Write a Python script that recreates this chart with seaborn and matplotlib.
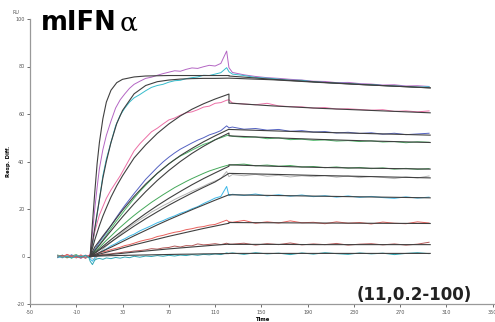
import numpy as np
import pandas as pd
import matplotlib
matplotlib.use('Agg')
import matplotlib.pyplot as plt
import seaborn as sns

# time grids (s)
t_base = [-26, -22, -18, -14, -10, -6, -2, 1]
t_assoc = [2, 4, 6, 8, 10, 13, 16, 20, 24, 28, 32, 36, 40, 45, 50, 55, 60, 65, 70, 75,
           80, 85, 90, 95, 100, 105, 110, 115, 120, 122]
t_dissoc = [125, 135, 145, 155, 165, 175, 185, 195, 205, 215, 225, 235, 245, 255, 265, 275, 285, 295]
t_fit = [2, 4, 6, 8, 10, 13, 16, 20, 25, 30, 40, 50, 60, 70, 80, 90, 100, 110, 122,
         122, 160, 200, 240, 296]

# measured traces (RU)
purple = [0.5, -0.3, 0.6, -0.5, 0.2, -0.8, 0.4, 0.3,
          1, 10, 20, 29, 37, 45, 51, 57, 62.5, 66, 68.5, 70.8, 72.5, 73.8, 75, 75.5, 76.3, 77, 77.6, 78.2,
          78, 78.8, 79.4, 79.2, 79.9, 80.5, 80.2, 81.3, 86.5, 79.5,
          77.5, 76.5, 75.8, 75.3, 75.0, 74.6, 74.3, 73.8, 73.7, 73.2, 73.3, 72.8, 72.6, 72.2, 72.3, 71.8, 71.9, 71.6]
cyan = [-0.2, 0.6, -0.4, 0.3, -0.6, 0.5, -0.3, 0.2,
        0, 5, 11, 17.5, 24, 34, 41, 48, 55, 59.5, 62.5, 65, 66.8, 68.2, 69.8, 71.2, 72, 72.5, 73.4, 74,
        74.2, 74.9, 75.3, 75.6, 76.3, 76.2, 76.8, 77.4, 79.5, 77.8,
        76.8, 76.2, 75.4, 75.1, 74.7, 74.2, 74.2, 73.6, 73.3, 73.0, 72.9, 72.5, 72.4, 72.0, 71.8, 71.6, 71.3, 71.5]
pink = [0.3, -0.5, 0.8, -0.2, 0.5, -0.4, 0.6, 0.1,
        0.5, 6, 10.5, 14, 17.5, 21, 24.5, 28, 31, 34, 37.5, 41, 44.5, 47.5, 50, 52.5, 54, 55.8, 57.5, 58.3,
        59.5, 60.5, 60.9, 61.8, 62.9, 63.3, 64.5, 64.8, 65.8, 66,
        64.6, 64.2, 63.9, 64.5, 63.4, 63.1, 63.0, 62.5, 62.7, 62.1, 62.2, 61.9, 61.6, 61.8, 61.1, 61.3, 60.9, 61.3]
blue = [-0.4, 0.4, -0.2, 0.7, -0.5, 0.2, -0.6, 0.4,
        0, 1.5, 3, 4.5, 6, 8, 10, 13, 16, 18.8, 21.5, 24, 26.5, 29.5, 32.5, 35, 37.5, 39.8, 41.8, 43.6,
        45.2, 46.5, 47.8, 49, 50, 51.2, 52, 53, 55, 54.2,
        54.5, 53.6, 53.9, 53.2, 53.5, 52.7, 53.0, 52.4, 52.6, 52.0, 52.3, 51.8, 52.1, 51.5, 51.9, 51.3, 51.6, 51.9]
green = [0.6, -0.2, 0.3, -0.7, 0.5, -0.3, 0.2, -0.4,
         0, 1.2, 2.5, 3.8, 5, 7, 9, 11.8, 14.5, 17, 19.6, 22, 24.5, 27.4, 30, 32.5, 35, 37, 39, 40.8,
         42.3, 43.5, 44.8, 46, 47.2, 48, 49.2, 50, 50.9, 51,
         50.6, 50.2, 50.3, 49.6, 49.9, 49.2, 49.4, 48.9, 49.1, 48.6, 48.8, 48.4, 48.7, 48.2, 48.4, 47.9, 48.3, 48.1]
green2 = [-0.3, 0.5, -0.6, 0.2, 0.8, -0.4, 0.3, -0.2,
          0, 0.8, 1.8, 2.8, 3.8, 5.3, 6.8, 8.6, 10.5, 12.3, 14, 15.7, 17.3, 19.2, 21, 22.8, 24.4, 26, 27.5, 29,
          30.3, 31.6, 32.8, 33.9, 35, 36, 36.8, 37.6, 38.3, 38.5,
          38.6, 38.9, 38.2, 38.5, 38.0, 38.3, 37.7, 37.9, 37.4, 37.7, 37.2, 37.5, 37.0, 37.3, 36.8, 37.1, 36.7, 37.0]
grey = [0.2, -0.6, 0.4, -0.2, 0.6, -0.5, 0.1, -0.3,
        0, -1, -1.5, 0, 1.5, 3, 4.4, 6, 7.6, 9.4, 11, 12.4, 13.8, 15.5, 17, 18.7, 20, 21.4, 22.6, 24,
        25.2, 26.3, 27.5, 28.5, 29.6, 30.8, 31.8, 32.8, 35.8, 33.6,
        34.5, 34.0, 34.6, 33.8, 34.2, 33.5, 34.0, 33.6, 34.1, 33.4, 33.9, 33.2, 33.7, 33.3, 32.8, 33.5, 33.1, 33.9]
lightblue = [-0.5, 0.3, -0.1, 0.6, -0.4, 0.4, -0.7, 0.2,
             -1, -2, -0.5, 0.5, 1.3, 2.4, 3.2, 4.5, 5.4, 6.6, 7.5, 8.6, 9.4, 10.8, 11.9, 13, 14.2, 15.1, 16.2, 17.1,
             18.2, 19, 20.1, 21, 22.3, 23.4, 24.6, 25.3, 29.5, 25.6,
             26.2, 25.7, 26.3, 25.5, 26.0, 25.4, 25.9, 25.2, 25.6, 25.0, 25.5, 24.9, 25.3, 24.8, 24.5, 25.1, 24.6, 25.0]
red = [0.4, -0.3, 0.9, 0.1, -0.5, 0.7, -0.8, 0.5,
       0.5, 1, 0.6, 1.2, 1.5, 2, 2.3, 2.9, 3.4, 3.9, 4.6, 5, 5.6, 6.4, 7, 7.5, 8.4, 8.9, 9.6, 10.2,
       10.6, 11.3, 11.7, 12.3, 12.6, 13.2, 13.5, 14.4, 15.3, 14.6,
       14.4, 15.2, 14.0, 14.6, 14.1, 15.0, 14.2, 14.4, 13.8, 14.6, 14.0, 14.3, 13.7, 14.5, 14.0, 13.8, 14.6, 14.1]
brown = [-0.2, 0.5, -0.4, 0.3, 0.1, -0.6, 0.4, -0.1,
         0, 0.8, 0.3, 0.6, 0.5, 0.9, 1, 1.1, 1.4, 1.6, 1.9, 2, 2.3, 2.5, 2.8, 3.3, 3.1, 3.6, 3.8, 4.4,
         4.0, 4.6, 4.5, 5.3, 4.9, 5.1, 5.4, 5.0, 5.6, 5.2,
         5.2, 5.6, 4.8, 5.4, 5.0, 5.7, 4.9, 5.3, 5.0, 5.5, 4.8, 5.2, 5.4, 4.9, 5.3, 4.8, 5.2, 6.0]
teal = [0.3, -0.4, 0.1, -0.6, 0.4, -0.2, 0.5, -0.5,
        -2, -3.4, -1.5, -1, -0.8, -1.2, -0.6, -0.9, -0.4, -0.7, -0.2, -0.5, 0.1, -0.3, 0.2, 0.0, 0.4, 0.1, 0.5, 0.2,
        0.6, 0.4, 0.8, 0.5, 0.9, 0.7, 1.1, 0.8, 1.5, 1.3,
        1.5, 0.9, 1.6, 1.1, 1.4, 0.8, 1.5, 1.0, 1.6, 1.2, 0.9, 1.5, 1.1, 1.4, 0.8, 1.3, 1.6, 1.2]

# fitted curves (association + dissociation)
purple_fit = [0, 14, 27, 39, 48, 58, 65, 70, 73.2, 74.6, 75.6, 76.0, 76.1, 76.2, 76.2, 76.2, 76.2, 76.2, 76.2,
              76.0, 74.6, 73.4, 72.3, 71.0]
cyan_fit = [0, 6, 12, 18, 24, 33, 40, 48, 56, 61.5, 68.5, 72.0, 73.6, 74.3, 74.7, 74.9, 75.0, 75.0, 75.1,
            75.1, 74.4, 73.3, 72.3, 71.0]
pink_fit = [0, 3.5, 7, 10, 13, 17, 20.5, 25, 29.8, 34, 41.5, 47, 51.8, 55.8, 59.2, 62.0, 64.3, 66.3, 68.4,
            64.6, 63.4, 62.4, 61.6, 60.5]
blue_fit = [0, 2, 4, 5.3, 6.6, 8.6, 10.5, 13, 16.3, 19.5, 25.3, 30.5, 35, 39, 42.5, 45.5, 48.3, 50.8, 53.6,
            53.5, 52.9, 52.3, 51.8, 51.1]
green_fit = [0, 1.2, 2.4, 3.6, 4.8, 6.6, 8.4, 10.8, 13.8, 16.7, 22.2, 27.3, 32, 36.2, 40, 43.4, 46.4, 49.1, 52,
             50.8, 50.0, 49.3, 48.7, 48.0]
green2_fit = [0, 0.7, 1.5, 2.3, 3.1, 4.3, 5.5, 7.1, 9.0, 10.9, 14.6, 18.1, 21.4, 24.5, 27.4, 30.2, 32.8, 35.2, 38.0,
              38.6, 38.0, 37.5, 37.2, 36.8]
grey_fit = [0, 0.6, 1.3, 2, 2.7, 3.7, 4.7, 6.1, 7.8, 9.5, 12.8, 15.9, 18.8, 21.6, 24.2, 26.7, 29.1, 31.4, 35.0,
            35.0, 34.6, 34.1, 33.7, 33.1]
lightblue_fit = [0, 0.4, 0.8, 1.2, 1.7, 2.3, 3, 3.9, 5.1, 6.3, 8.7, 11, 13.3, 15.5, 17.6, 19.7, 21.7, 23.7, 26.0,
                 26.0, 25.7, 25.4, 25.1, 24.7]
red_fit = [0, 0.25, 0.5, 0.75, 1, 1.4, 1.8, 2.3, 2.9, 3.6, 4.9, 6.1, 7.3, 8.5, 9.6, 10.7, 11.8, 12.8, 14.0,
           14.3, 14.2, 14.1, 14.0, 13.9]
brown_fit = [0, 0.1, 0.2, 0.3, 0.4, 0.55, 0.7, 0.9, 1.1, 1.35, 1.85, 2.3, 2.75, 3.2, 3.6, 4.0, 4.4, 4.8, 5.2,
             5.1, 5.1, 5.0, 5.0, 5.0]
teal_fit = [0, 0.05, 0.1, 0.15, 0.2, 0.25, 0.3, 0.35, 0.4, 0.45, 0.55, 0.65, 0.75, 0.85, 0.95, 1.0, 1.1, 1.15, 1.25,
            1.3, 1.3, 1.3, 1.3, 1.3]

names = ['purple', 'cyan', 'pink', 'blue', 'green', 'green2', 'grey', 'lightblue', 'red', 'brown', 'teal']
traces = [purple, cyan, pink, blue, green, green2, grey, lightblue, red, brown, teal]
fits = [purple_fit, cyan_fit, pink_fit, blue_fit, green_fit, green2_fit, grey_fit, lightblue_fit,
        red_fit, brown_fit, teal_fit]
colors = ['#b466c4', '#36bccc', '#ec6fa6', '#5462c2', '#4cb868', '#44a85a', '#b4b4b4', '#3cb8e8',
          '#e8605c', '#b45a5a', '#2ea6b4']

t_trace = t_base + t_assoc + t_dissoc
trace_df = pd.concat([pd.DataFrame({'t': t_trace, 'resp': v, 'series': n}) for n, v in zip(names, traces)])
fit_df = pd.concat([pd.DataFrame({'t': t_fit, 'resp': v, 'series': n}) for n, v in zip(names, fits)])

plt.rcParams['axes.unicode_minus'] = False
fig = plt.figure(figsize=(4.95, 3.22), dpi=100)
ax = fig.add_axes([30 / 495, 18 / 322, 1 - 30 / 495, 285 / 322])

sns.lineplot(data=trace_df, x='t', y='resp', hue='series', palette=dict(zip(names, colors)),
             estimator=None, sort=False, legend=False, linewidth=0.7, ax=ax)
sns.lineplot(data=fit_df, x='t', y='resp', units='series', color='#404040',
             estimator=None, sort=False, legend=False, linewidth=0.8, ax=ax, zorder=5)

ax.set_xlim(-50, 352)
ax.set_ylim(-20, 100)
ax.set_xticks(range(-50, 351, 40))
ax.set_yticks(range(-20, 101, 20))
ax.tick_params(labelsize=3.5, length=2, width=0.6, colors='#555555', pad=2)
for s in ['top', 'right']:
    ax.spines[s].set_visible(False)
for s in ['left', 'bottom']:
    ax.spines[s].set_color('#999999')
    ax.spines[s].set_linewidth(0.9)
ax.set_xlabel('Time', fontsize=3.8, fontweight='bold', labelpad=2)
ax.set_ylabel('Resp. Diff.', fontsize=3.8, fontweight='bold', labelpad=3)
fig.text(16 / 495, 1 - 12 / 322, 'RU', fontsize=3.5, color='#555555', ha='center', va='center')

# title: bold "mIFN" followed by a lighter serif alpha
title = fig.text(41 / 495, 1 - 30 / 322, 'mIFN', fontsize=18.5, fontweight='bold', va='baseline')
fig.canvas.draw()
bb = title.get_window_extent(fig.canvas.get_renderer())
fig.text(bb.x1 / 495 + 3 / 495, 1 - 30 / 322, 'α', fontsize=19, family='DejaVu Serif', va='baseline')

fig.text(472 / 495, 1 - 300 / 322, '(11,0.2-100)', fontsize=12, fontweight='bold', ha='right', va='baseline',
         color='#222222')

fig.savefig('out.png', dpi=100)
